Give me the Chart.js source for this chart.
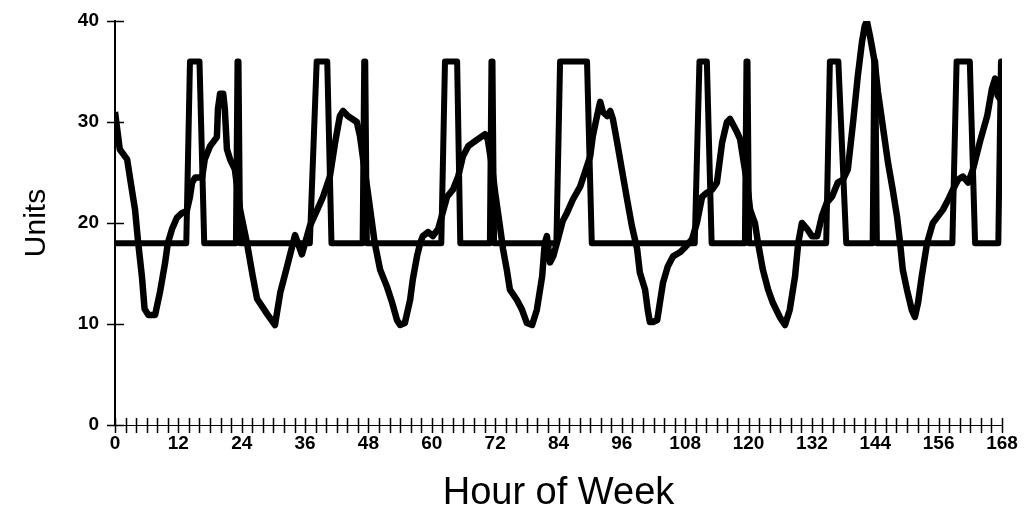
<!DOCTYPE html>
<html>
<head>
<meta charset="utf-8">
<title>Units by Hour of Week</title>
<script src="https://cdn.jsdelivr.net/npm/chart.js@4.4.1/dist/chart.umd.min.js"></script>
<style>
  html, body { margin: 0; padding: 0; background: #fff; }
  #wrap { width: 1036px; height: 520px; position: relative; }
</style>
</head>
<body>
<div id="wrap"><canvas id="chart"></canvas></div>
<script>
// ── Data ─────────────────────────────────────────────────────────────────────
// stepped schedule (baseline 18, pulses to 36)
const STEP_HOURS = [
  0, 13.5, 14.2, 16.0, 16.9, 22.9, 23.2, 23.4, 23.7,
  36.9, 38.2, 40.2, 41.0, 46.9, 47.2, 47.4, 47.7,
  61.8, 62.5, 64.8, 65.4, 71.0, 71.3, 71.5, 71.8,
  83.6, 84.3, 89.4, 90.3,
  109.8, 110.7, 112.1, 113.0, 119.3, 119.6, 119.8, 120.1,
  134.7, 135.4, 137.0, 138.5, 143.5, 143.8, 144.0, 144.3,
  158.6, 159.4, 161.9, 162.9, 167.3, 167.8, 168,
];
const STEP_UNITS = [
  18, 18, 36, 36, 18, 18, 36, 36, 18,
  18, 36, 36, 18, 18, 36, 36, 18,
  18, 36, 36, 18, 18, 36, 36, 18,
  18, 36, 36, 18,
  18, 36, 36, 18, 18, 36, 36, 18,
  18, 36, 36, 18, 18, 36, 36, 18,
  18, 36, 36, 18, 18, 36, 36,
];

// measured curve
const WAVE_HOURS = [
  0, 0.9, 2.3, 2.8, 3.8, 4.4, 5.1, 5.6, 6.3, 7.6, 8.5, 9.5, 10, 10.8, 11.7, 12.7,
  13.6, 14.2, 14.6, 15.2, 16.5, 17, 18, 19.3, 19.5, 19.9, 20.5, 20.8, 21.2, 21.8,
  22.7, 23.7, 25, 26.1, 26.9, 28.8, 30.3, 31.3, 32.6, 34.1, 35.4, 36.9, 38.3, 39.4,
  40.7, 41.7, 42.6, 43.2, 44.1, 45.8, 46.4, 47, 47.9, 49.2, 50.2, 51.5, 52.5, 53.4,
  54, 54.9, 55.9, 56.4, 57.2, 57.8, 58.3, 59.3, 60.2, 61.2, 61.9, 62.9, 64, 65,
  65.9, 66.9, 68.2, 70.1, 70.6, 71.4, 72, 72.9, 73.5, 74.2, 74.8, 76.1, 77.1, 78,
  79, 79.9, 80.9, 81.4, 81.8, 82.4, 83, 83.9, 84.8, 85.6, 86.7, 88.1, 89, 90,
  90.5, 91.3, 91.9, 92.4, 93.2, 93.8, 94.3, 95.1, 96, 97, 97.9, 98.9, 99.4, 100.4,
  100.9, 101.3, 101.9, 102.7, 103.2, 103.8, 104.7, 105.7, 107, 108, 109.3, 110.2,
  111.2, 112.1, 113.1, 114, 115, 115.9, 116.5, 117.8, 118.4, 118.9, 119.7, 120.3,
  121.2, 121.8, 122.7, 123.7, 124.6, 125.9, 126.9, 127.8, 128.8, 129.4, 130.1,
  131.1, 132, 133, 133.9, 134.8, 135.8, 136.9, 137.9, 138.8, 139.8, 140.7, 141.5,
  142, 142.4, 143, 143.9, 144.5, 145.5, 146.4, 147.3, 148.1, 148.7, 149.2, 150,
  150.9, 151.5, 152.1, 152.8, 153.8, 154.9, 156.8, 157.8, 158.7, 159.7, 160.6,
  161.6, 162.5, 163.8, 165.2, 166.1, 166.7, 167.2, 168,
];
const WAVE_UNITS = [
  31, 27.3, 26.3, 24.6, 21.3, 18, 14.7, 11.5, 10.9, 10.9, 13.1, 16.1, 18, 19.4, 20.5, 21,
  21.2, 22.6, 24, 24.5, 24.5, 26.3, 27.6, 28.5, 31.3, 32.8, 32.8, 31.3, 27.3, 26.3,
  25.3, 21.3, 18, 14.7, 12.5, 11, 9.9, 13.1, 15.7, 18.8, 16.9, 19.7, 21.3, 22.6,
  24.6, 28, 30.6, 31.1, 30.6, 30, 28.6, 26.3, 23, 18, 15.4, 13.7, 12.1, 10.4,
  9.9, 10.1, 12.4, 14.4, 16.7, 18, 18.7, 19.1, 18.7, 19.4, 20.7, 22.6, 23.3, 24.6,
  26.6, 27.6, 28.1, 28.8, 28.3, 25.6, 23, 19.7, 17.4, 15.4, 13.4, 12.4, 11.4, 10.1,
  9.9, 11.4, 14.7, 18, 18.7, 16.1, 16.7, 18.4, 20.2, 21, 22.3, 23.6, 25, 26.6,
  28.6, 30.6, 32, 31, 30.6, 31.1, 30.3, 28, 25.3, 22.3, 19.7, 17.4, 15.1, 13.4,
  11.4, 10.2, 10.2, 10.4, 12.1, 14.1, 15.7, 16.7, 17.1, 17.6, 18.4, 20,
  22.6, 23, 23.3, 24, 28, 30, 30.3, 29, 28.3, 26.6, 24, 21.3,
  20, 18, 15.4, 13.4, 12.1, 10.7, 9.9, 11.4, 14.7, 18, 20,
  19.4, 18.7, 18.7, 20.7, 22, 22.6, 24, 24.3, 25.3, 30, 34.6, 38,
  39.5, 40, 38.5, 35.9, 33, 29.3, 26, 23.3, 20.7, 18, 15.4, 13.4,
  11.4, 10.7, 12.1, 14.7, 18, 20, 21.3, 22.3, 23.3, 24.3, 24.6,
  24, 25.3, 28, 30.6, 33.3, 34.3, 32.6, 32,
];

// axis ticks
const X_LABEL_HOURS = [0, 12, 24, 36, 48, 60, 72, 84, 96, 108, 120, 132, 144, 156, 168];
const Y_TICKS = [0, 10, 20, 30, 40];

// ── Helpers ──────────────────────────────────────────────────────────────────
const toPoints = (xs, ys) => xs.map((x, i) => ({ x, y: ys[i] }));

const SANS = "'Liberation Sans', Arial, sans-serif";
const TICK_FONT = { family: SANS, size: 19, weight: "bold" };

// tick marks that cross the axis line, like the printed original
const crossTicks = {
  id: "crossTicks",
  afterDraw(chart) {
    const { ctx, scales: { x, y } } = chart;
    ctx.save();
    ctx.strokeStyle = "#000";
    ctx.lineWidth = 1.5;
    ctx.beginPath();
    x.ticks.forEach(t => {
      const px = Math.round(x.getPixelForValue(t.value)) + 0.5;
      ctx.moveTo(px, x.top - 7);
      ctx.lineTo(px, x.top + 8);
    });
    y.ticks.forEach(t => {
      const py = Math.round(y.getPixelForValue(t.value)) + 0.5;
      ctx.moveTo(y.right - 8, py);
      ctx.lineTo(y.right + 9, py);
    });
    ctx.stroke();
    ctx.restore();
  },
};

// ── Chart ────────────────────────────────────────────────────────────────────
new Chart(document.getElementById("chart"), {
  type: "line",
  data: {
    datasets: [
      {
        label: "Schedule",
        data: toPoints(STEP_HOURS, STEP_UNITS),
        borderColor: "#000",
        borderWidth: 6,
        borderJoinStyle: "round",
        pointRadius: 0,
        tension: 0,
      },
      {
        label: "Units",
        data: toPoints(WAVE_HOURS, WAVE_UNITS),
        borderColor: "#000",
        borderWidth: 6.5,
        borderJoinStyle: "round",
        pointRadius: 0,
        tension: 0,
      },
    ],
  },
  options: {
    responsive: true,
    maintainAspectRatio: false,
    animation: false,
    layout: { padding: { left: 0, right: 34, top: 21, bottom: 0 } },
    plugins: { legend: { display: false }, tooltip: { enabled: false } },
    scales: {
      x: {
        type: "linear",
        min: 0,
        max: 168,
        afterFit: s => { s.height = 95; },
        border: { color: "#000", width: 1, dash: [3, 3] },
        grid: { drawOnChartArea: false, drawTicks: false },
        ticks: {
          stepSize: 2,
          autoSkip: false,
          maxRotation: 0,
          padding: 7,
          color: "#000",
          font: TICK_FONT,
          callback: v => (X_LABEL_HOURS.includes(v) ? String(v) : ""),
        },
        title: {
          display: true,
          text: "Hour of Week",
          color: "#000",
          font: { family: SANS, size: 38 },
          padding: { top: 0, bottom: 4 },
        },
      },
      y: {
        min: 0,
        max: 40,
        afterFit: s => { s.width = 115; s.paddingTop = 0; s.paddingBottom = 0; },
        afterBuildTicks: s => { s.ticks = Y_TICKS.map(v => ({ value: v })); },
        border: { color: "#000", width: 2 },
        grid: { drawOnChartArea: false, drawTicks: false },
        ticks: { padding: 16, color: "#000", font: TICK_FONT },
        title: {
          display: true,
          text: "Units",
          color: "#000",
          font: { family: SANS, size: 30 },
          padding: { top: 19, bottom: 0 },
        },
      },
    },
  },
  plugins: [crossTicks],
});
</script>
</body>
</html>
